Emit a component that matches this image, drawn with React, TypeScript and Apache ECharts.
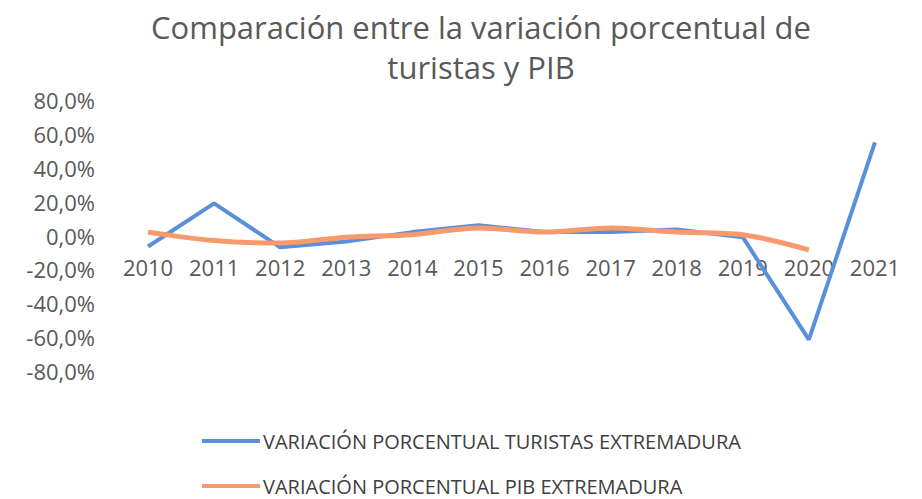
import React, { useEffect, useRef } from "react";
import * as echarts from "echarts";

const years = ["2010", "2011", "2012", "2013", "2014", "2015", "2016", "2017", "2018", "2019", "2020", "2021"];
const turistas = [-6.5, 19, -7, -3.5, 2, 6, 2, 2, 3.5, -1, -61.5, 55];
const pib = [2, -3, -4.5, -1, 0.5, 4.5, 2, 4.5, 2, 0.5, -8.5, null];
const yTicks = { min: -80, max: 80, interval: 20 };
const nameTur = "VARIACIÓN PORCENTUAL TURISTAS EXTREMADURA";
const namePib = "VARIACIÓN PORCENTUAL PIB EXTREMADURA";

const fmt = (v: number) => v.toFixed(1).replace(".", ",") + "%";

export default function App() {
  const ref = useRef<HTMLDivElement>(null);
  useEffect(() => {
    const chart = echarts.init(ref.current!, null, { renderer: "svg" });
    const legendBase = {
      orient: "horizontal",
      left: 200,
      itemWidth: 58,
      itemHeight: 4,
      icon: "rect",
      padding: 2,
      textStyle: { color: "#404040", fontSize: 20, fontFamily: "Open Sans", padding: [0, 0, 0, -2] },
    };
    chart.setOption({
      animation: false,
      backgroundColor: "#ffffff",
      textStyle: { fontFamily: "Open Sans" },
      title: {
        text: "Comparación entre la variación porcentual de\nturistas y PIB",
        left: 476,
        textAlign: "center",
        top: 2,
        textStyle: { fontSize: 31, fontWeight: "normal", color: "#595959", lineHeight: 40, fontFamily: "Open Sans" },
      },
      grid: { left: 115, right: 14, top: 100, bottom: 128 },
      xAxis: {
        type: "category",
        data: years,
        boundaryGap: true,
        position: "bottom",
        offset: -135.5,
        axisLine: { show: false, onZero: false },
        axisTick: { show: false },
        axisLabel: { color: "#595959", fontSize: 22, margin: 20 },
      },
      yAxis: {
        type: "value",
        min: yTicks.min,
        max: yTicks.max,
        interval: yTicks.interval,
        splitLine: { show: false },
        axisLine: { show: false },
        axisTick: { show: false },
        axisLabel: { color: "#595959", fontSize: 22, margin: 20, formatter: fmt },
      },
      legend: [
        { ...legendBase, top: 429, data: [nameTur] },
        { ...legendBase, top: 474, data: [namePib] },
      ],
      series: [
        {
          name: nameTur,
          type: "line",
          data: turistas,
          symbol: "none",
          lineStyle: { width: 4, color: "#5b8fdc" },
          itemStyle: { color: "#5b8fdc" },
        },
        {
          name: namePib,
          type: "line",
          data: pib,
          symbol: "none",
          smooth: 0.3,
          lineStyle: { width: 5, color: "#f89a6c" },
          itemStyle: { color: "#f89a6c" },
        },
      ],
    });
    return () => chart.dispose();
  }, []);
  return <div ref={ref} style={{ position: "absolute", left: 0, top: 0, width: 922, height: 499 }} />;
}
